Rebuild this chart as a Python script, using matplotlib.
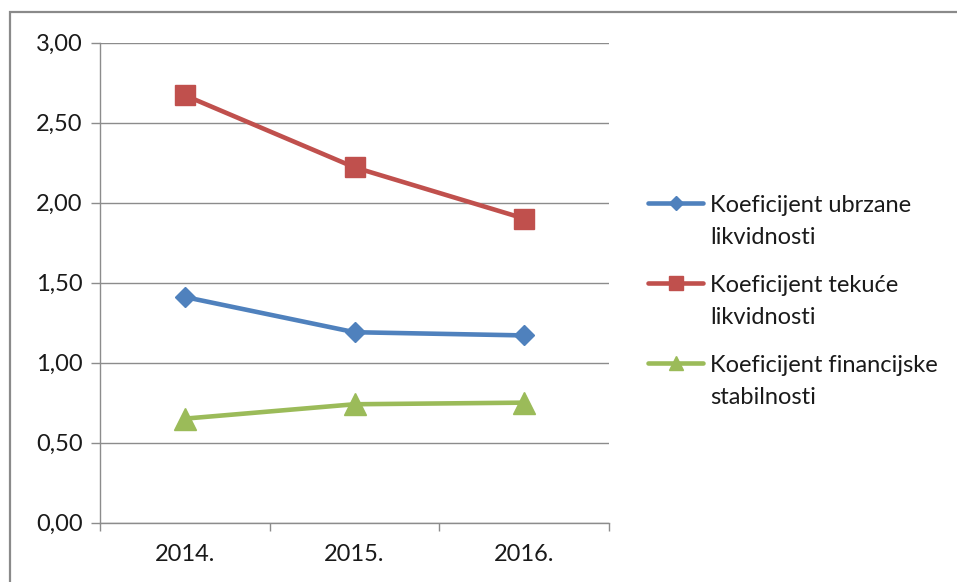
import numpy as np
import matplotlib.pyplot as plt
from matplotlib.patches import Rectangle
from matplotlib.lines import Line2D

# data
years = ['2014.', '2015.', '2016.']
ubrzane = [1.41, 1.19, 1.17]
tekuce = [2.67, 2.22, 1.90]
financijske = [0.65, 0.74, 0.75]

labels = ['Koeficijent ubrzane\nlikvidnosti',
          'Koeficijent tekuće\nlikvidnosti',
          'Koeficijent financijske\nstabilnosti']
colors = ['#4F81BD', '#C0504D', '#9BBB59']
markers = ['D', 's', '^']

plt.rcParams['font.family'] = ['Lato', 'DejaVu Sans']
txt_color = '#1a1a1a'
grid_color = '#8c8c8c'
fs = 17

W, H = 957, 582
fig = plt.figure(figsize=(W / 100, H / 100), dpi=100)
ax = fig.add_axes([100 / W, 1 - 522.7 / H, (609 - 100) / W, (522.7 - 42.5) / H])

# outer chart border (only top and left are visible in the crop)
fig.patches.append(Rectangle((10 / W, -0.1), 1.2, 1 - 12 / H + 0.1,
                             transform=fig.transFigure, fill=False,
                             edgecolor='#8a8a8a', linewidth=1.6))

x = np.arange(len(years))
series = [ubrzane, tekuce, financijske]
plot_ms = [10.5, 14.5, 15.5]
for vals, col, mk, ms, lab in zip(series, colors, markers, plot_ms, labels):
    ax.plot(x, vals, color=col, lw=3.3, marker=mk, ms=ms, label=lab,
            solid_capstyle='round')

ax.set_xlim(-0.5, 2.5)
ax.set_ylim(0, 3)
yt = np.arange(0, 3.01, 0.5)
ax.set_yticks(yt)
ax.set_yticklabels([f'{v:.2f}'.replace('.', ',') for v in yt])
ax.set_xticks(x)
ax.set_xticklabels(years)
ax.set_xticks([-0.5, 0.5, 1.5, 2.5], minor=True)

ax.grid(axis='y', color=grid_color, lw=1.0)
ax.set_axisbelow(True)
for s in ['top', 'right']:
    ax.spines[s].set_visible(False)
for s in ['left', 'bottom']:
    ax.spines[s].set_color(grid_color)
    ax.spines[s].set_linewidth(1.0)

ax.tick_params(axis='y', length=6.5, color=grid_color, width=1.0,
               labelsize=fs, labelcolor=txt_color, pad=6)
ax.tick_params(axis='x', which='major', length=0, labelsize=fs,
               labelcolor=txt_color, pad=15)
ax.tick_params(axis='x', which='minor', length=6, color=grid_color, width=1.0)

# legend drawn by hand: handle sits on the first text line like in Excel
leg_ms = [7.5, 9.5, 10.5]
for i, (col, mk, ms, lab) in enumerate(zip(colors, markers, leg_ms, labels)):
    ypx = 203 + 80 * i
    yy = 1 - ypx / H
    fig.add_artist(Line2D([648 / W, 675.5 / W, 703 / W], [yy, yy, yy],
                          transform=fig.transFigure, color=col, lw=3.3,
                          marker=mk, ms=ms, markevery=[1],
                          solid_capstyle='round'))
    for j, line in enumerate(lab.split('\n')):
        fig.text(710 / W, 1 - (ypx + 33 * j) / H, line, fontsize=fs,
                 color=txt_color, va='center_baseline', ha='left')

fig.savefig('out.png', dpi=100)
